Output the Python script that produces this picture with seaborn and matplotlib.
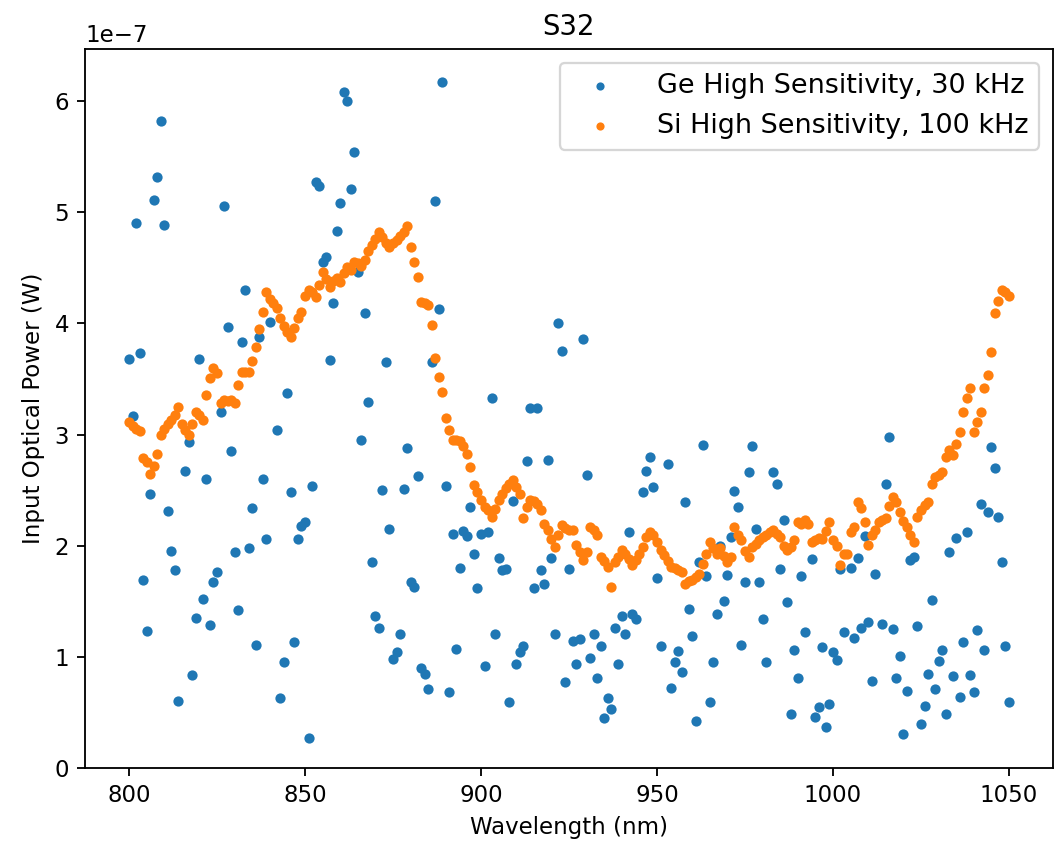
import numpy as np
import pandas as pd
import matplotlib
matplotlib.use("Agg")
import matplotlib.pyplot as plt
import seaborn as sns

# Ge detector (30 kHz) readings: wavelength in nm, power in units of 1e-7 W
ge_wavelength = [
    800, 801, 802, 803, 804, 805, 806, 807, 808, 809, 810, 811, 812, 813, 814,
    816, 817, 818, 819, 820, 821, 822, 823, 824, 825, 826, 827, 828, 829, 830,
    831, 832, 833, 834, 835, 836, 837, 838, 839, 840, 842, 843, 844, 845, 846,
    847, 848, 849, 850, 851, 852, 853, 854, 855, 856, 857, 858, 859, 860, 861,
    862, 863, 864, 865, 866, 867, 868, 869, 870, 871, 872, 873, 874, 875, 876,
    877, 878, 879, 880, 881, 882, 883, 884, 885, 886, 887, 888, 889, 890, 891,
    892, 893, 894, 895, 896, 897, 898, 899, 900, 901, 902, 903, 904, 905, 906,
    907, 908, 909, 910, 911, 912, 913, 914, 915, 916, 917, 918, 919, 920, 921,
    922, 923, 924, 925, 926, 927, 928, 929, 930, 931, 932, 933, 934, 935, 936,
    937, 938, 939, 940, 941, 942, 943, 944, 946, 947, 948, 949, 950, 951, 953,
    954, 955, 956, 957, 958, 959, 960, 961, 962, 963, 964, 965, 966, 967, 968,
    969, 970, 971, 972, 973, 974, 975, 976, 977, 978, 979, 980, 981, 983, 984,
    985, 986, 987, 988, 989, 990, 991, 992, 994, 995, 996, 997, 998, 999, 1000,
    1001, 1002, 1003, 1005, 1006, 1007, 1008, 1009, 1010, 1011, 1012, 1014, 1015, 1016, 1017,
    1018, 1019, 1020, 1021, 1022, 1023, 1024, 1025, 1026, 1027, 1028, 1029, 1030, 1031, 1032,
    1033, 1034, 1035, 1036, 1037, 1038, 1039, 1040, 1041, 1042, 1043, 1044, 1045, 1046, 1047,
    1048, 1049, 1050,
]
ge_power = [
    3.68, 3.17, 4.90, 3.73, 1.69, 1.23, 2.47, 5.11, 5.32, 5.82, 4.89, 2.31, 1.95, 1.78, 0.60,
    2.67, 2.93, 0.84, 1.35, 3.68, 1.52, 2.60, 1.29, 1.67, 1.76, 3.20, 5.06, 3.97, 2.85, 1.94,
    1.42, 3.83, 4.30, 1.98, 2.34, 1.11, 3.88, 2.60, 2.06, 4.01, 3.04, 0.63, 0.95, 3.37, 2.48,
    1.13, 2.06, 2.18, 2.21, 0.27, 2.54, 5.27, 5.24, 4.55, 4.60, 3.67, 4.18, 4.83, 5.08, 6.08,
    6.00, 5.21, 5.54, 4.46, 2.95, 4.09, 3.29, 1.85, 1.37, 1.26, 2.50, 3.65, 2.15, 0.98, 1.04,
    1.21, 2.51, 2.88, 1.67, 1.63, 2.63, 0.90, 0.85, 0.71, 3.65, 5.10, 4.13, 6.17, 2.54, 0.68,
    2.11, 1.07, 1.80, 2.13, 2.09, 2.35, 1.93, 1.62, 2.11, 0.92, 2.12, 3.33, 1.21, 1.89, 1.78,
    1.79, 0.59, 2.40, 0.94, 1.04, 1.10, 2.76, 3.24, 1.62, 3.24, 1.78, 1.66, 2.77, 1.89, 1.21,
    4.00, 3.75, 0.77, 1.79, 1.14, 0.94, 1.16, 3.86, 2.64, 0.99, 1.21, 0.81, 1.10, 0.45, 0.63,
    0.53, 1.26, 0.94, 1.37, 1.21, 2.12, 1.39, 1.34, 2.48, 2.67, 2.80, 2.53, 1.71, 1.10, 2.74,
    0.72, 0.95, 1.05, 0.86, 2.39, 1.43, 1.19, 0.42, 1.85, 2.91, 1.73, 0.59, 0.95, 1.39, 2.00,
    1.50, 1.74, 2.08, 2.49, 2.35, 1.11, 1.67, 2.66, 2.90, 2.15, 1.67, 1.34, 0.95, 2.66, 2.56,
    1.79, 2.23, 1.49, 0.49, 1.06, 0.81, 1.73, 1.22, 1.88, 0.46, 0.55, 1.09, 0.37, 0.58, 1.04,
    0.97, 1.79, 1.22, 1.80, 1.17, 1.89, 1.26, 2.09, 1.31, 0.78, 1.75, 1.30, 2.56, 2.98, 1.25,
    0.81, 1.01, 0.31, 0.69, 1.87, 1.90, 1.28, 0.40, 0.56, 0.85, 1.51, 0.71, 0.96, 1.06, 0.49,
    1.94, 0.83, 2.07, 0.64, 1.13, 2.12, 0.84, 0.68, 1.24, 2.38, 1.06, 2.30, 2.89, 2.70, 2.26,
    1.85, 1.10, 0.59,
]

# Si detector (100 kHz) readings, one per nm from 800 to 1050 nm, in units of 1e-7 W
si_wavelength = list(range(800, 1051))
si_power = [
    3.11, 3.08, 3.05, 3.03, 2.79, 2.75, 2.65, 2.72, 2.83, 3.00,  # 800
    3.05, 3.10, 3.13, 3.18, 3.25, 3.10, 3.04, 3.00, 3.10, 3.20,  # 810
    3.18, 3.13, 3.36, 3.51, 3.60, 3.55, 3.28, 3.31, 3.30, 3.31,  # 820
    3.28, 3.45, 3.56, 3.56, 3.56, 3.66, 3.79, 3.95, 4.10, 4.28,  # 830
    4.22, 4.18, 4.14, 4.05, 3.98, 3.92, 3.88, 3.96, 4.05, 4.10,  # 840
    4.25, 4.30, 4.28, 4.24, 4.35, 4.46, 4.40, 4.33, 4.38, 4.41,  # 850
    4.37, 4.45, 4.51, 4.48, 4.55, 4.54, 4.52, 4.57, 4.65, 4.71,  # 860
    4.76, 4.82, 4.78, 4.72, 4.69, 4.72, 4.75, 4.79, 4.82, 4.88,  # 870
    4.69, 4.55, 4.42, 4.19, 4.18, 4.17, 3.99, 3.69, 3.52, 3.38,  # 880
    3.15, 3.04, 2.95, 2.95, 2.94, 2.90, 2.83, 2.71, 2.55, 2.48,  # 890
    2.41, 2.35, 2.32, 2.26, 2.33, 2.41, 2.47, 2.52, 2.56, 2.59,  # 900
    2.53, 2.47, 2.25, 2.35, 2.41, 2.40, 2.38, 2.32, 2.20, 2.14,  # 910
    2.06, 1.99, 2.10, 2.19, 2.16, 2.14, 2.14, 2.01, 1.94, 1.87,  # 920
    1.94, 2.17, 2.14, 2.10, 1.90, 1.86, 1.81, 1.63, 1.85, 1.90,  # 930
    1.96, 1.93, 1.88, 1.83, 1.87, 1.93, 1.99, 2.08, 2.12, 2.10,  # 940
    2.03, 1.96, 1.92, 1.86, 1.81, 1.80, 1.78, 1.76, 1.66, 1.68,  # 950
    1.69, 1.72, 1.75, 1.84, 1.93, 2.03, 1.98, 1.93, 1.98, 1.91,  # 960
    1.85, 1.90, 2.17, 2.10, 2.05, 1.95, 1.90, 1.99, 2.02, 2.05,  # 970
    2.08, 2.10, 2.12, 2.14, 2.11, 2.08, 2.00, 1.96, 1.99, 2.05,  # 980
    2.21, 2.20, 2.23, 2.20, 2.03, 2.05, 2.07, 2.06, 2.13, 2.21,  # 990
    2.05, 2.00, 1.83, 1.93, 1.93, 2.12, 2.17, 2.39, 2.34, 2.21,  # 1000
    2.01, 2.10, 2.14, 2.21, 2.23, 2.25, 2.36, 2.44, 2.39, 2.30,  # 1010
    2.22, 2.17, 2.10, 2.03, 2.26, 2.32, 2.37, 2.39, 2.56, 2.62,  # 1020
    2.64, 2.66, 2.80, 2.86, 2.82, 2.92, 3.02, 3.20, 3.33, 3.42,  # 1030
    3.02, 3.11, 3.20, 3.42, 3.54, 3.74, 4.09, 4.20, 4.30, 4.28,  # 1040
    4.25,                                                        # 1050
]

ge_label = "Ge High Sensitivity, 30 kHz"
si_label = "Si High Sensitivity, 100 kHz"

ge = pd.DataFrame({"wavelength": ge_wavelength, "power": np.array(ge_power) * 1e-7})
si = pd.DataFrame({"wavelength": si_wavelength, "power": np.array(si_power) * 1e-7})

DPI = 165
fig = plt.figure(figsize=(1055 / DPI, 860 / DPI), dpi=DPI)
ax = fig.add_axes([85 / 1055, 1 - 768 / 860, (1053 - 85) / 1055, (768 - 49) / 860])

sns.scatterplot(data=ge, x="wavelength", y="power", ax=ax, color="#1f77b4",
                s=20, linewidth=0, label=ge_label)
sns.scatterplot(data=si, x="wavelength", y="power", ax=ax, color="#ff7f0e",
                s=20, linewidth=0, label=si_label)

ax.set_xlim(787.5, 1062.5)
ax.set_ylim(0, 6.47e-7)
ax.set_xticks([800, 850, 900, 950, 1000, 1050])
ax.set_title("S32", fontsize=12)
ax.set_xlabel("Wavelength (nm)")
ax.set_ylabel("Input Optical Power (W)")
ax.legend(loc="upper right", fontsize=11.8, markerscale=0.8,
          handlelength=2.2, handletextpad=1.0)

fig.savefig("out.png", dpi=DPI)
